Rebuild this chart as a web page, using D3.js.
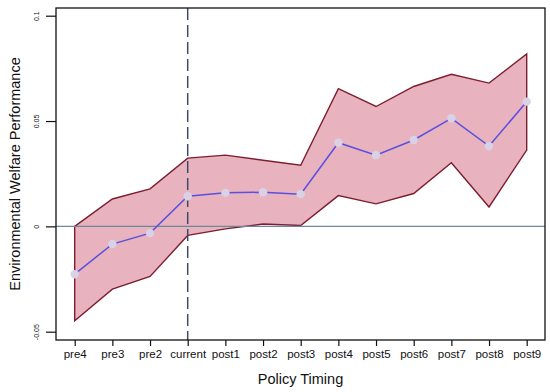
<!DOCTYPE html>
<html><head><meta charset="utf-8">
<script src="https://cdn.jsdelivr.net/npm/d3@7"></script>
<style>body{margin:0;background:#fff}svg{display:block}text{font-family:"Liberation Sans",Arial,sans-serif}</style>
</head><body><svg id="c" width="550" height="392"></svg>
<script>
const categories = ["pre4","pre3","pre2","current","post1","post2","post3","post4","post5","post6","post7","post8","post9"];
const estimate = [-0.0227,-0.0084,-0.0032,0.0143,0.0159,0.0162,0.0153,0.0397,0.0338,0.0410,0.0513,0.0381,0.0592];
const upper = [0.0000,0.0130,0.0178,0.0324,0.0338,0.0314,0.0290,0.0654,0.0569,0.0664,0.0722,0.0680,0.0818];
const lower = [-0.0448,-0.0298,-0.0238,-0.0043,-0.0012,0.0011,0.0004,0.0146,0.0107,0.0156,0.0302,0.0092,0.0362];
const yTicks = [-0.05, 0, 0.05, 0.1];
const yTickLabels = ["-0.05","0","0.05","0.1"];

const svg = d3.select("#c");
const L = 56, R = 545, T = 8, B = 340;
const x = d3.scalePoint().domain(categories).range([74.7, 526.7]);
const y = d3.scaleLinear().domain([-0.05, 0.1]).range([331.7, 15.7]);

// band
const area = d3.area().x((d,i)=>x(categories[i])).y0((d,i)=>y(lower[i])).y1((d,i)=>y(upper[i]));
svg.append("path").datum(estimate).attr("d", area).attr("fill","#e8b3be").attr("stroke","none");
const lineU = d3.line().x((d,i)=>x(categories[i])).y(d=>y(d));
const poly = categories.map((c,i)=>[x(c), y(upper[i])]).concat(categories.map((c,i)=>[x(c), y(lower[i])]).reverse());
svg.append("path").attr("d", "M" + poly.map(p=>p.join(",")).join("L") + "Z")
  .attr("fill","none").attr("stroke","#7d1e30").attr("stroke-width",1.4).attr("stroke-linejoin","miter");

// zero line
svg.append("line").attr("x1",L).attr("x2",R).attr("y1",y(0)).attr("y2",y(0))
  .attr("stroke","#6e8799").attr("stroke-width",1.2);
// dashed vertical at current
svg.append("line").attr("x1",x("current")).attr("x2",x("current")).attr("y1",T).attr("y2",B)
  .attr("stroke","#3e4d66").attr("stroke-width",1.5).attr("stroke-dasharray","12,5");

// estimate line
svg.append("path").datum(estimate).attr("d", lineU).attr("fill","none").attr("stroke","#5a4fe0").attr("stroke-width",1.5);
svg.selectAll("circle.pt").data(estimate).join("circle").attr("class","pt")
  .attr("cx",(d,i)=>x(categories[i])).attr("cy",d=>y(d)).attr("r",4.2).attr("fill","#d9d2e6");

// frame
svg.append("rect").attr("x",L).attr("y",T).attr("width",R-L).attr("height",B-T)
  .attr("fill","none").attr("stroke","#111").attr("stroke-width",1.3);

// x axis
const xa = svg.append("g").attr("transform",`translate(0,${B})`)
  .call(d3.axisBottom(x).tickSize(6).tickSizeOuter(0));
xa.select(".domain").remove();
xa.selectAll(".tick line").attr("stroke","#111").attr("stroke-width",1.2);
xa.selectAll(".tick text").attr("font-size",11.5).attr("fill","#111").attr("dy","0.6em").attr("y",11.5);

// y axis
const ya = svg.append("g").attr("transform",`translate(${L},0)`)
  .call(d3.axisLeft(y).tickValues(yTicks).tickFormat((d,i)=>yTickLabels[i]).tickSize(10).tickSizeOuter(0));
ya.select(".domain").remove();
ya.selectAll(".tick line").attr("stroke","#111").attr("stroke-width",1.2);
ya.selectAll(".tick text").attr("font-size",7).attr("fill","#111")
  .attr("x",null).attr("dy",null)
  .attr("transform","translate(-19,0) rotate(-90)").attr("text-anchor","middle").attr("dy","0.35em");

// titles
svg.append("text").attr("x",(L+R)/2).attr("y",384).attr("text-anchor","middle")
  .attr("font-size",14.5).attr("fill","#111").text("Policy Timing");
svg.append("text").attr("transform",`translate(20,${(T+B)/2}) rotate(-90)`).attr("text-anchor","middle")
  .attr("font-size",14.5).attr("fill","#111").text("Environmental Welfare Performance");
</script></body></html>
